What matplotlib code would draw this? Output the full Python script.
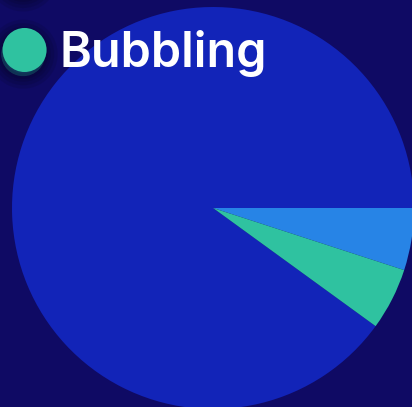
import matplotlib.pyplot as plt
import matplotlib.patheffects as pe
from matplotlib.lines import Line2D

# slice data (legend order = data order)
labels = ['Calm', 'Geysering', 'Bubbling']
shares = [90, 5, 5]
colors = ['#1224b8', '#2784e6', '#2fc2a0']
bg = '#0f0a64'

fig = plt.figure(figsize=(4.12, 4.07), dpi=100, facecolor=bg)
ax = fig.add_axes([0, 0, 1, 1])
ax.set_facecolor(bg)

# pie, clockwise, first slice starts so the small ones sit just below 3 o'clock
ax.pie(shares, colors=colors, center=(213, 199), radius=201,
       startangle=324, counterclock=False,
       wedgeprops={'linewidth': 0})
ax.set_xlim(0, 412)
ax.set_ylim(0, 407)
ax.set_aspect('equal')
ax.axis('off')

# legend with round markers, top rows pushed off the canvas
handles = [Line2D([], [], marker='o', linestyle='', markersize=31.7,
                  markerfacecolor=c, markeredgewidth=0) for c in colors]
leg = fig.legend(handles, labels, loc='lower left',
                 bbox_to_anchor=(1 / 412, 1 - 77 / 407),
                 frameon=False, labelcolor='white',
                 handlelength=0.97, handletextpad=0.24, borderpad=0,
                 borderaxespad=0, labelspacing=0.62,
                 prop={'family': 'Inter', 'weight': 'semibold', 'size': 35})

# soft dark shadow under the markers
shadow = [pe.Stroke(linewidth=w, foreground='black', alpha=0.09, offset=(-1, -3))
          for w in (18, 13, 8, 4)] + [pe.Normal()]
for h in leg.legend_handles:
    h.set_path_effects(shadow)

fig.savefig('out.png', dpi=100, facecolor=bg)
